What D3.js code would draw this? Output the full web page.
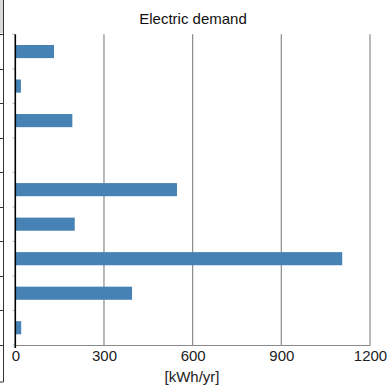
<!DOCTYPE html>
<html>
<head>
<meta charset="utf-8">
<script src="https://cdn.jsdelivr.net/npm/d3@7/dist/d3.min.js"></script>
<style>
  html, body { margin: 0; padding: 0; background: #fff; }
  svg { display: block; font-family: "Liberation Sans", Arial, Helvetica, sans-serif; }
</style>
</head>
<body>
<div id="main"></div>
<script>
// end uses (names are cut off in the picture), values in kWh/yr
var categories = ['Heating', 'Cooling', 'Fans', 'Pumps', 'Lighting', 'Water heating', 'Equipment', 'Refrigeration', 'Other'];
var demand = [131, 19, 193, 0, 547, 201, 1106, 395, 20];
var xTicks = [0, 300, 600, 900, 1200];

var width = 387, height = 387;
var plotLeft = 15.3, plotRight = 370, plotTop = 34.3, plotBottom = 345;

var svg = d3.select('#main').append('svg')
  .attr('width', width)
  .attr('height', height);

// edge of the neighbouring panel on the left
svg.append('rect').attr('x', 0).attr('y', 0).attr('width', 3).attr('height', 33).attr('fill', '#d9d9d9');
svg.append('line').attr('x1', 3.5).attr('x2', 3.5).attr('y1', 0).attr('y2', 382)
  .attr('stroke', '#333').attr('stroke-width', 1);
svg.append('line').attr('x1', 0).attr('x2', 3.5).attr('y1', 382).attr('y2', 382)
  .attr('stroke', '#333').attr('stroke-width', 1);

var x = d3.scaleLinear().domain([0, 1200]).range([plotLeft, plotRight]);
var y = d3.scaleBand().domain(categories).range([plotTop, plotBottom])
  .paddingInner(0.62).paddingOuter(0.31);

var step = y.step();
var bounds = d3.range(categories.length + 1).map(function(i) { return plotTop + i * step; });

// neighbour ticks
svg.selectAll('.nt').data(bounds).enter().append('line')
  .attr('x1', 0).attr('x2', 3.5)
  .attr('y1', function(d) { return Math.round(d) + 0.5; })
  .attr('y2', function(d) { return Math.round(d) + 0.5; })
  .attr('stroke', '#333');

// vertical grid lines
svg.selectAll('.grid').data(xTicks.slice(1)).enter().append('line')
  .attr('x1', function(d) { return x(d); })
  .attr('x2', function(d) { return x(d); })
  .attr('y1', plotTop).attr('y2', plotBottom)
  .attr('stroke', '#8a8a8a').attr('stroke-width', 1.2);

// bars
svg.selectAll('.bar').data(demand).enter().append('rect')
  .attr('x', x(0))
  .attr('y', function(d, i) { return y(categories[i]); })
  .attr('width', function(d) { return x(d) - x(0); })
  .attr('height', y.bandwidth())
  .attr('fill', '#4682b4');

// x axis
var xAxis = svg.append('g')
  .attr('transform', 'translate(0,' + plotBottom + ')')
  .call(d3.axisBottom(x).tickValues(xTicks).tickFormat(d3.format('d')).tickSize(0).tickPadding(5));
xAxis.select('.domain').attr('stroke', '#8a8a8a').attr('stroke-width', 1.2);
xAxis.selectAll('text').attr('font-size', 15).attr('fill', '#222')
  .attr('font-family', '"Liberation Sans", Arial, sans-serif');

// y axis small ticks
svg.selectAll('.yt').data(bounds).enter().append('line')
  .attr('x1', 12.5).attr('x2', 15)
  .attr('y1', function(d) { return d; })
  .attr('y2', function(d) { return d; })
  .attr('stroke', '#bbb');

svg.append('line')
  .attr('x1', plotLeft).attr('x2', plotLeft)
  .attr('y1', plotTop).attr('y2', plotBottom + 3)
  .attr('stroke', '#000').attr('stroke-width', 1.6);

svg.append('text')
  .attr('x', 193).attr('y', 24)
  .attr('text-anchor', 'middle')
  .attr('font-size', 15).attr('fill', '#111')
  .text('Electric demand');

svg.append('text')
  .attr('x', 192).attr('y', 382)
  .attr('text-anchor', 'middle')
  .attr('font-size', 15).attr('fill', '#222')
  .text('[kWh/yr]');
</script>
</body>
</html>
